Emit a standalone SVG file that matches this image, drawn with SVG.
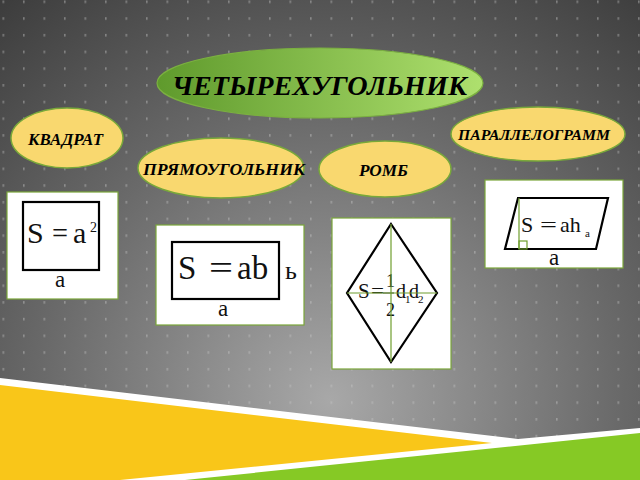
<svg xmlns="http://www.w3.org/2000/svg" width="640" height="480" viewBox="0 0 640 480">
<defs>
  <radialGradient id="bg" gradientUnits="userSpaceOnUse" cx="330" cy="400" r="520">
    <stop offset="0" stop-color="#a8a8a8"/>
    <stop offset="0.55" stop-color="#6a6a6a"/>
    <stop offset="1" stop-color="#3c3c3c"/>
  </radialGradient>
  <linearGradient id="gr" x1="0" y1="0" x2="1" y2="0">
    <stop offset="0" stop-color="#5f9a2c"/>
    <stop offset="1" stop-color="#aee06e"/>
  </linearGradient>
  <pattern id="dots" patternUnits="userSpaceOnUse" x="2.5" y="0.5" width="20.5" height="16.7">
    <rect x="0" y="0" width="1.6" height="2.6" fill="#c8c8c8" fill-opacity="0.45"/>
  </pattern>
</defs>
<style>
  .cat { fill: #f9d86f; stroke: #78a83a; stroke-width: 1.5; }
  .lbl { font-family: "Liberation Serif", "DejaVu Serif", serif; font-weight: bold; font-style: italic; fill: #000; }
  .card { fill: #fff; stroke: #7aa63a; stroke-width: 1.2; }
  .fig { fill: none; stroke: #000; stroke-width: 2.2; }
  .hl { stroke: #6f9e2e; stroke-width: 1.2; fill: none; }
  .m { font-family: "Liberation Serif", "DejaVu Serif", serif; fill: #111; }
</style>

<rect x="0" y="0" width="640" height="480" fill="url(#bg)"/>
<rect x="0" y="0" width="640" height="480" fill="url(#dots)"/>

<polygon points="0,378 518,439 640,428 640,480 0,480" fill="#ffffff"/>
<polygon points="0,385 492,443 120,480 0,480" fill="#f9c619"/>
<polygon points="185,480 640,433 640,480" fill="#86c925"/>

<g id="main">
  <ellipse cx="320" cy="83" rx="163" ry="35" fill="url(#gr)" stroke="#7bb040" stroke-width="1.2"/>
  <text class="lbl" x="172" y="95" font-size="27" textLength="295" lengthAdjust="spacingAndGlyphs">ЧЕТЫРЕХУГОЛЬНИК</text>
</g>

<g id="kvadrat">
  <ellipse class="cat" cx="67" cy="138" rx="56" ry="30"/>
  <text class="lbl" x="28" y="145" font-size="16" textLength="75" lengthAdjust="spacingAndGlyphs">КВАДРАТ</text>
</g>

<g id="pryamougolnik">
  <ellipse class="cat" cx="221" cy="168" rx="83" ry="30"/>
  <text class="lbl" x="143" y="175" font-size="16" textLength="162" lengthAdjust="spacingAndGlyphs">ПРЯМОУГОЛЬНИК</text>
</g>

<g id="romb">
  <ellipse class="cat" cx="385" cy="169" rx="66" ry="28"/>
  <text class="lbl" x="359" y="176" font-size="16" textLength="49" lengthAdjust="spacingAndGlyphs">РОМБ</text>
</g>

<g id="parallelogramm">
  <ellipse class="cat" cx="538" cy="134" rx="87" ry="27"/>
  <text class="lbl" x="458" y="140" font-size="14" textLength="152" lengthAdjust="spacingAndGlyphs">ПАРАЛЛЕЛОГРАММ</text>
</g>

<g id="square-card">
  <rect class="card" x="7" y="192" width="111" height="107"/>
  <rect class="fig" x="23" y="202" width="76" height="68"/>
  <text class="m" x="27" y="243" font-size="30">S</text>
  <text class="m" x="52" y="243" font-size="30" textLength="16" lengthAdjust="spacingAndGlyphs">=</text>
  <text class="m" x="73" y="243" font-size="30">a</text>
  <text class="m" x="90" y="232" font-size="14">2</text>
  <text class="m" x="55" y="287" font-size="23">a</text>
</g>

<g id="rect-card">
  <rect class="card" x="156" y="225" width="148" height="100"/>
  <rect class="fig" x="172" y="242" width="107" height="57"/>
  <text class="m" x="178" y="279" font-size="33">S</text>
  <text class="m" x="209" y="279" font-size="33" textLength="24" lengthAdjust="spacingAndGlyphs">=</text>
  <text class="m" x="237" y="279" font-size="33">ab</text>
  <text class="m" x="285" y="279" font-size="26">ь</text>
  <text class="m" x="218" y="316" font-size="23">a</text>
</g>

<g id="romb-card">
  <rect class="card" x="332" y="218" width="119" height="151"/>
  <polygon class="fig" points="391,224 437,293 391,362 347,293"/>
  <text class="m" x="358" y="298" font-size="21" fill="#333">S</text>
  <text class="m" x="371" y="298" font-size="21" textLength="13" lengthAdjust="spacingAndGlyphs" fill="#333">=</text>
  <text class="m" x="386" y="287" font-size="18" fill="#333">1</text>
  <line x1="383" y1="293" x2="394" y2="293" stroke="#333" stroke-width="1"/>
  <text class="m" x="386" y="316" font-size="18" fill="#333">2</text>
  <text class="m" x="396" y="298" font-size="20" fill="#333">d</text>
  <text class="m" x="405" y="303" font-size="11" fill="#333">1</text>
  <text class="m" x="409" y="298" font-size="20" fill="#333">d</text>
  <text class="m" x="418" y="303" font-size="11" fill="#333">2</text>
  <line class="hl" x1="391" y1="224" x2="391" y2="362"/>
  <line class="hl" x1="347" y1="293" x2="437" y2="293"/>
</g>

<g id="parallelogram-card">
  <rect class="card" x="485" y="180" width="138" height="88"/>
  <polygon class="fig" points="518,198 608,198 596,249 505,249"/>
  <line class="hl" x1="519" y1="198" x2="519" y2="249"/>
  <rect class="hl" x="519" y="241" width="8" height="8"/>
  <text class="m" x="521" y="232" font-size="22">S</text>
  <text class="m" x="540" y="232" font-size="22" textLength="17" lengthAdjust="spacingAndGlyphs">=</text>
  <text class="m" x="560" y="232" font-size="22">ah</text>
  <text class="m" x="585" y="237" font-size="11">a</text>
  <text class="m" x="549" y="265" font-size="23">a</text>
</g>
</svg>
